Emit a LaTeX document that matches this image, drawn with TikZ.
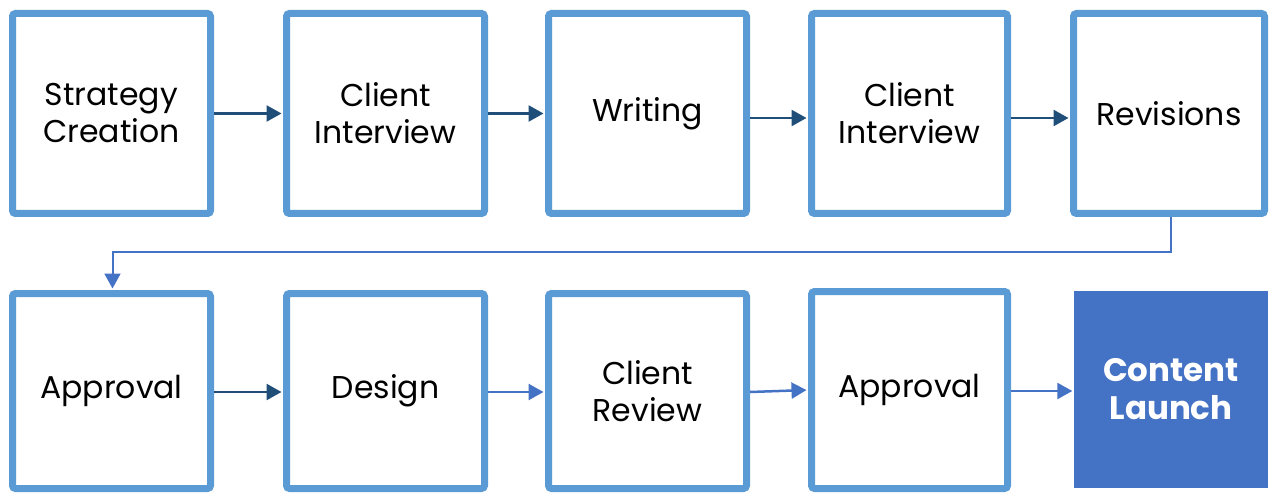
\documentclass[tikz,border=0pt]{standalone}
\usepackage{fontspec}
\setmainfont{Poppins}
\usetikzlibrary{arrows.meta}
\definecolor{boxblue}{HTML}{5B9BD5}
\definecolor{darkarrow}{HTML}{1F4E79}
\definecolor{lightarrow}{HTML}{4472C4}
\tikzset{
  stepbox/.style={draw=boxblue, line width=7pt, rounded corners=3pt, fill=white,
    minimum width=198pt, minimum height=200pt, align=center, inner sep=0pt,
    font=\fontsize{31.5}{37}\selectfont, text=black},
  lowbox/.style={stepbox, minimum height=195pt},
  darkconn/.style={draw=darkarrow, line width=2.5pt, -{Triangle[length=15pt,width=16pt]}, shorten >=1.5pt},
  lightconn/.style={draw=lightarrow, line width=2.5pt, -{Triangle[length=15pt,width=16pt]}, shorten >=1.5pt},
  launchbox/.style={fill=lightarrow, minimum width=194pt, minimum height=197pt, align=center,
    inner sep=0pt, font=\fontsize{32.5}{38}\selectfont\bfseries, text=white}
}
\begin{document}
\begin{tikzpicture}[x=1pt,y=-1pt]
\useasboundingbox (0,0) rectangle (1273,494);
% row 1
\node[stepbox] (b1) at (111.5,113.5) {Strategy\\Creation};
\node[stepbox] (b2) at (385.5,113.5) {Client\\Interview};
\node[stepbox] (b3) at (647.5,113.5) {Writing};
\node[stepbox, minimum width=196pt] (b4) at (909.5,113.5) {Client\\Interview};
\node[stepbox, minimum width=191pt] (b5) at (1169,113.5) {Revisions};
% row 2
\node[lowbox] (b6) at (111.5,391) {Approval};
\node[lowbox] (b7) at (385.5,391) {Design};
\node[lowbox] (b8) at (647.5,391) {Client\\Review};
\node[stepbox, minimum width=196pt, minimum height=197pt] (b9) at (909.5,390) {Approval};
\node[launchbox] (b10) at (1171,389.5) {Content\\Launch};
% connectors row 1
\draw[darkconn] (b1.east) -- (b2.west);
\draw[darkconn] (b2.east) -- (b3.west);
\draw[darkconn] ([yshift=-4.5pt]b3.east) -- ([yshift=-4.5pt]b4.west);
\draw[darkconn] ([yshift=-4.5pt]b4.east) -- ([yshift=-4.5pt]b5.west);
% elbow
\coordinate (turn) at (1171,252);
\draw[draw=lightarrow, line width=2pt, -{Triangle[length=15pt,width=16pt]}, shorten >=1.5pt]
  ([xshift=2pt]b5.south) |- (turn) -| ([xshift=1pt]b6.north);
% connectors row 2
\draw[darkconn] ([yshift=-1pt]b6.east) -- ([yshift=-1pt]b7.west);
\draw[lightconn] ([yshift=-1pt]b7.east) -- ([yshift=-1pt]b8.west);
\draw[lightconn] ([yshift=-1pt]b8.east) -- (b9.west);
\draw[lightconn] ([yshift=-1pt]b9.east) -- ([yshift=-1.5pt]b10.west);
\end{tikzpicture}
\end{document}
